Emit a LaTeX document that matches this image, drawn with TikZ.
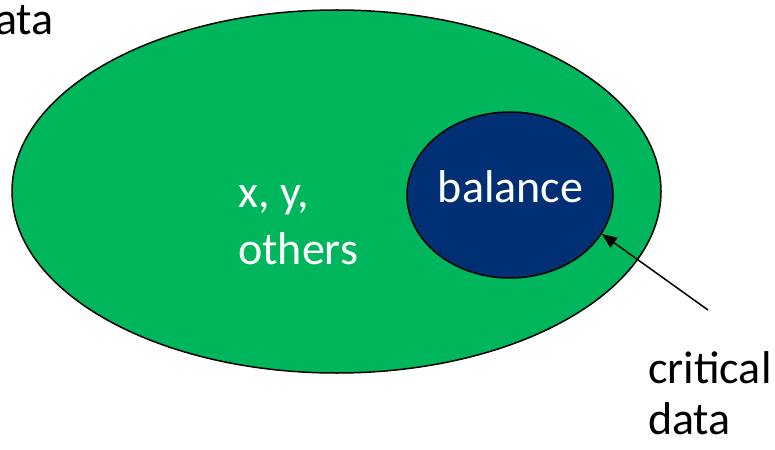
\documentclass[tikz,border=0pt]{standalone}
\usepackage{fontspec}
\setmainfont{Carlito}
\usetikzlibrary{shapes.geometric,arrows.meta}
\definecolor{setgreen}{RGB}{0,182,92}
\definecolor{setblue}{RGB}{0,47,116}
\tikzset{
  lbl/.style={font=\fontsize{46}{55}\selectfont, inner sep=0pt, anchor=base west},
  outline/.style={draw=black, line width=1.5pt},
}
\begin{document}
\begin{tikzpicture}[x=1pt,y=-1pt]
\useasboundingbox (0,0) rectangle (775,449);
\node[ellipse, outline, fill=setgreen, minimum width=649, minimum height=363, inner sep=0pt] (all) at (336.5,191.5) {};
\node[ellipse, outline, fill=setblue, minimum width=206, minimum height=166, inner sep=0pt] (bal) at (510,195) {};
\node[lbl, text=white, anchor=base] (baltxt) at (510.5,202) {balance};
\node[lbl, text=white] (xy) at (238,207.5) {x, y,};
\node[lbl, text=white] (oth) at (238,264) {others};
\node[lbl, anchor=base east] (data) at (54,35) {data};
\node[lbl] (crit) at (648,383) {critical};
\node[lbl] (cdata) at (648,434) {data};
\coordinate (tail) at (708,310);
\draw[line width=1.5pt, -{Triangle[length=15pt,width=12pt]}] (tail) -- (bal.-23);
\end{tikzpicture}
\end{document}
